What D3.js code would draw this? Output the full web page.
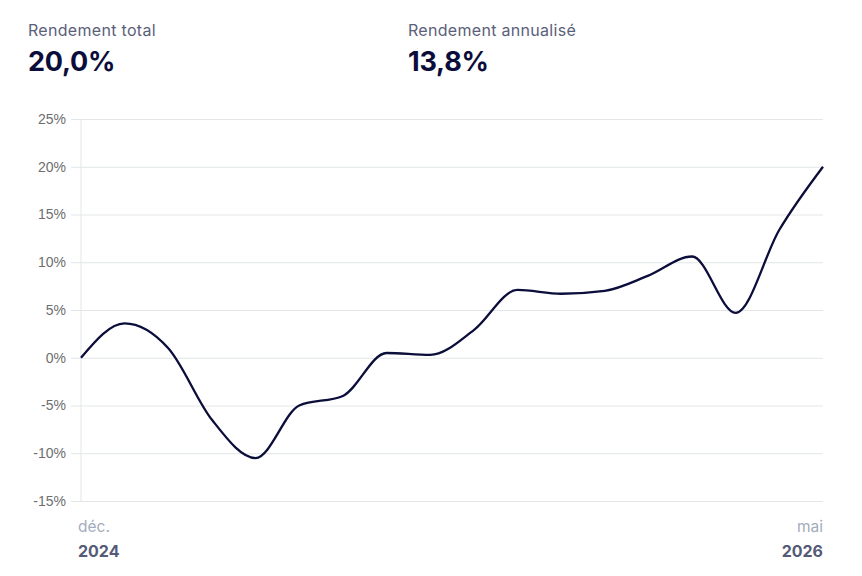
<!DOCTYPE html>
<html>
<head>
<meta charset="utf-8">
<script src="https://cdn.jsdelivr.net/npm/d3@7"></script>
<style>
  body { margin: 0; background: #fff; font-family: Inter, "Noto Sans", sans-serif; }
</style>
</head>
<body>
<div id="chart"></div>
<script>
// monthly total return, %
const months = ["2024-12","2025-01","2025-02","2025-03","2025-04","2025-05","2025-06","2025-07","2025-08",
  "2025-09","2025-10","2025-11","2025-12","2026-01","2026-02","2026-03","2026-04","2026-05"];
const returns = [0, 3.6, 1.0, -6.5, -10.5, -5.0, -4.0, 0.5, 0.3, 2.9, 7.1, 6.7, 7.0, 8.6, 10.6, 4.7, 13.4, 20.0];
const yTicks = [-15, -10, -5, 0, 5, 10, 15, 20, 25];
const stats = [
  { label: "Rendement total", value: "20,0%" },
  { label: "Rendement annualisé", value: "13,8%" }
];
const xLabels = [
  { date: "2024-12", month: "déc.", year: "2024" },
  { date: "2026-05", month: "mai", year: "2026" }
];

let chart = { width: 862, height: 576, left: 81, right: 823, top: 119, bottom: 501 };

const data = months.map((m, i) => ({ date: m, value: returns[i] }));

const svg = d3.select("#chart").append("svg")
  .attr("width", chart.width)
  .attr("height", chart.height);

// header stats
const head = svg.append("g").selectAll("g")
  .data(stats)
  .enter().append("g")
  .attr("transform", (d, i) => "translate(" + [28, 408][i] + ",0)");
head.append("text")
  .attr("y", 36)
  .style("font-size", "16px")
  .style("fill", "#5b6079")
  .style("letter-spacing", "0.3px")
  .text(d => d.label);
head.append("text")
  .attr("y", 71)
  .style("font-size", "27px")
  .style("font-weight", "700")
  .style("fill", "#0b0d3a")
  .style("letter-spacing", "-0.2px")
  .text(d => d.value);

const x = d3.scalePoint()
  .domain(months)
  .range([chart.left, chart.right]);
const y = d3.scaleLinear()
  .domain([-15, 25])
  .range([chart.bottom, chart.top]);

// y grid + labels
const yaxis = d3.axisLeft(y)
  .tickValues(yTicks)
  .tickSize(-(chart.right - chart.left + 10))
  .tickPadding(5)
  .tickFormat(d => d + "%");
const yg = svg.append("g")
  .attr("transform", "translate(" + (chart.left - 10) + ",0)")
  .call(yaxis);
yg.select(".domain").remove();
yg.selectAll(".tick line").attr("stroke", "#e2e6e8").attr("stroke-width", 1);
yg.selectAll(".tick text")
  .style("font-size", "14px")
  .style("font-family", "'Liberation Sans', Arial, sans-serif")
  .style("fill", "#6e6e6e");

// left axis line
svg.append("line")
  .attr("x1", chart.left).attr("x2", chart.left)
  .attr("y1", chart.top).attr("y2", chart.bottom)
  .attr("stroke", "#e2e6e8");

// x labels
const xl = svg.append("g").selectAll("g")
  .data(xLabels)
  .enter().append("g")
  .attr("transform", d => "translate(" + x(d.date) + ",0)")
  .style("text-anchor", (d, i) => i === 0 ? "start" : "end");
xl.append("text")
  .attr("x", (d, i) => i === 0 ? -3 : 0)
  .attr("y", 532)
  .style("font-size", "15.5px")
  .style("fill", "#a4acbb")
  .text(d => d.month);
xl.append("text")
  .attr("x", (d, i) => i === 0 ? -3 : 0)
  .attr("y", 557)
  .style("font-size", "16px")
  .style("font-weight", "700")
  .style("fill", "#555a76")
  .text(d => d.year);

// line
const line = d3.line()
  .x(d => x(d.date))
  .y(d => y(d.value))
  .curve(d3.curveMonotoneX);

svg.append("path")
  .datum(data)
  .attr("fill", "none")
  .attr("stroke", "#0b0d3a")
  .attr("stroke-width", 2.3)
  .attr("stroke-linejoin", "round")
  .attr("d", line);
</script>
</body>
</html>
